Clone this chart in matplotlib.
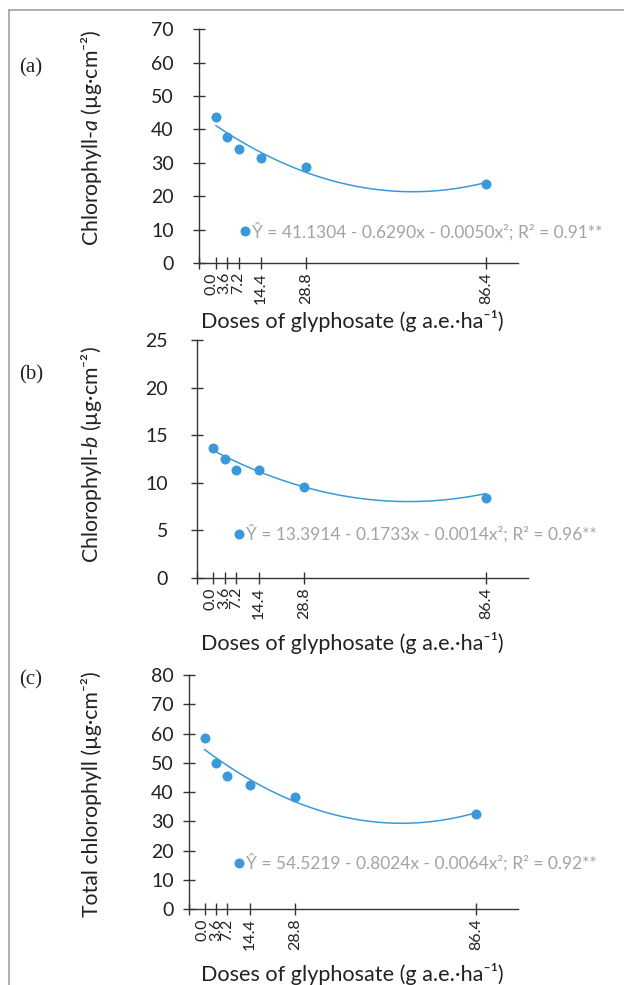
import numpy as np
import matplotlib
matplotlib.use("Agg")
import matplotlib.pyplot as plt
from matplotlib.lines import Line2D
from matplotlib.transforms import ScaledTranslation

plt.rcParams['font.family'] = ['Lato', 'DejaVu Sans']
plt.rcParams['mathtext.fontset'] = 'custom'
plt.rcParams['mathtext.rm'] = 'Lato'
plt.rcParams['mathtext.it'] = 'Lato:italic'

W, H = 624, 985

# glyphosate doses (g a.e./ha)
doses = [0.0, 3.6, 7.2, 14.4, 28.8, 86.4]
dose_labels = ["0.0", "3.6", "7.2", "14.4", "28.8", "86.4"]

# measured chlorophyll contents
chl_a = [43.8, 37.6, 34.0, 31.5, 28.8, 23.7]
chl_b = [13.7, 12.55, 11.33, 11.33, 9.55, 8.43]
chl_total = [58.5, 50.1, 45.4, 42.5, 38.5, 32.5]

# quadratic fits: intercept, linear, quadratic
fit_a = [41.1304, -0.6290, 0.0050]
fit_b = [13.3914, -0.1733, 0.0014]
fit_total = [54.5219, -0.8024, 0.0064]

eq_a = "Ŷ = 41.1304 - 0.6290x - 0.0050x²; R² = 0.91**"
eq_b = "Ŷ = 13.3914 - 0.1733x - 0.0014x²; R² = 0.96**"
eq_total = "Ŷ = 54.5219 - 0.8024x - 0.0064x²; R² = 0.92**"

ylabels = ["Chlorophyll-$a$ (µg·cm⁻²)", "Chlorophyll-$b$ (µg·cm⁻²)",
           "Total chlorophyll (µg·cm⁻²)"]
tags = ["(a)", "(b)", "(c)"]

blue = "#3a9ad9"
gray_txt = "#a3a3a3"
axcol = "#333333"
txtcol = "#222222"

# layout in pixels: y-spine x, right end, pixel of x=0, pixel of x=86.4,
# top, bottom, ymax, ystep, ytick pad, legend dot (x, y), tag y, ylabel y, xlabel y
panels = [
    dict(ys=199, R=518, p0=216, p1=486, top=29.3, bot=263, ymax=70, step=10, pad=13.7,
         dot=(9.3, 9.5), tagy=68, yly=138, xly=321, shift=[-4, -3]),
    dict(ys=197.3, R=528, p0=213.3, p1=486, top=340, bot=578, ymax=25, step=5, pad=16.5,
         dot=(8.1, 4.64), tagy=375, yly=455, xly=643, shift=[-3, 0]),
    dict(ys=188.7, R=518, p0=204.7, p1=476, top=675, bot=909.3, ymax=80, step=10, pad=6.3,
         dot=(10.9, 15.9), tagy=680, yly=794, xly=974, shift=[-2, 0]),
]
series = [chl_a, chl_b, chl_total]
fits = [fit_a, fit_b, fit_total]
eqs = [eq_a, eq_b, eq_total]

fig = plt.figure(figsize=(W / 100, H / 100), dpi=100)

for i, p in enumerate(panels):
    ax = fig.add_axes([p['ys'] / W, 1 - p['bot'] / H,
                       (p['R'] - p['ys']) / W, (p['bot'] - p['top']) / H])
    s = (p['p1'] - p['p0']) / 86.4
    xl = (p['ys'] - p['p0']) / s
    xr = (p['R'] - p['p0']) / s
    ax.set_xlim(xl, xr)
    ax.set_ylim(0, p['ymax'])
    for sp in ['top', 'right']:
        ax.spines[sp].set_visible(False)
    for sp in ['left', 'bottom']:
        ax.spines[sp].set_color(axcol)
        ax.spines[sp].set_linewidth(1.0)

    yt = np.arange(0, p['ymax'] + 0.1, p['step'])
    ax.set_yticks(yt)
    ax.set_yticklabels([str(int(v)) for v in yt])
    ax.set_xticks([xl] + doses)
    ax.set_xticklabels([""] + dose_labels, rotation=90, va='top', ha='center')
    ax.tick_params(axis='y', direction='inout', length=9, width=1.0, color=axcol,
                   labelsize=14, labelcolor=txtcol, pad=p['pad'])
    ax.tick_params(axis='x', direction='inout', length=9, width=1.0, color=axcol,
                   labelsize=11.5, labelcolor=txtcol, pad=2)
    # nudge the crowded first labels apart
    labs = ax.get_xticklabels()
    for k, dx in enumerate(p['shift']):
        lab = labs[k + 1]
        lab.set_transform(lab.get_transform() + ScaledTranslation(dx / 100, 0, fig.dpi_scale_trans))

    xs = np.linspace(0, 86.4, 200)
    c = fits[i]
    ax.plot(xs, c[0] + c[1] * xs + c[2] * xs ** 2, color=blue, lw=1.1)
    ax.plot(doses, series[i], 'o', color=blue, ms=7.2, mec='none', clip_on=False)
    ax.plot([p['dot'][0]], [p['dot'][1]], 'o', color=blue, ms=7.2, mec='none')
    ax.annotate(eqs[i], xy=p['dot'], xytext=(4.8, 0), textcoords='offset points',
                va='center', ha='left', color=gray_txt, fontsize=12.5)

    fig.text(19 / W, 1 - p['tagy'] / H, tags[i], family='Liberation Serif',
             fontsize=15, va='center', ha='left', color=txtcol)
    fig.text(91 / W, 1 - p['yly'] / H, ylabels[i], rotation=90, fontsize=15.3,
             va='center', ha='center', color=txtcol)
    fig.text(352 / W, 1 - p['xly'] / H, "Doses of glyphosate (g a.e.·ha⁻¹)",
             fontsize=15.6, va='center', ha='center', color=txtcol)

# outer frame lines
fig.add_artist(Line2D([9 / W, 9 / W], [0, 1 - 10 / H], color="#a0a0a0", lw=1.2))
fig.add_artist(Line2D([9 / W, 1], [1 - 10 / H, 1 - 10 / H], color="#a0a0a0", lw=1.2))

fig.savefig("out.png", dpi=100)
